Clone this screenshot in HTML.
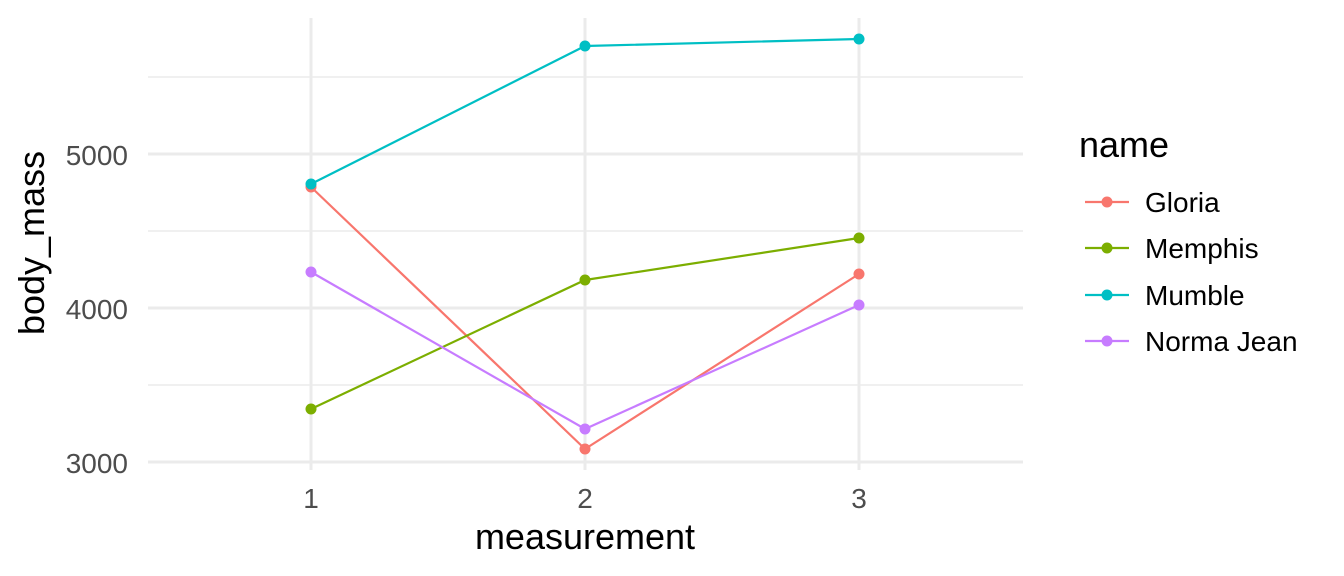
<!DOCTYPE html>
<html><head><meta charset="utf-8"><style>
html,body{margin:0;padding:0;background:#fff;}
svg{display:block;font-family:"Liberation Sans",Arial,sans-serif;}
</style></head><body>
<svg width="1344" height="576" viewBox="0 0 1344 576" xmlns="http://www.w3.org/2000/svg">
<rect width="1344" height="576" fill="#fff"/>
<g stroke="#ebebeb" stroke-width="1.5">
<line x1="148" x2="1023" y1="77" y2="77"/>
<line x1="148" x2="1023" y1="231" y2="231"/>
<line x1="148" x2="1023" y1="385" y2="385"/>
</g>
<g stroke="#ebebeb" stroke-width="3">
<line x1="148" x2="1023" y1="154" y2="154"/>
<line x1="148" x2="1023" y1="308" y2="308"/>
<line x1="148" x2="1023" y1="462" y2="462"/>
<line x1="311" x2="311" y1="18" y2="470"/>
<line x1="585" x2="585" y1="18" y2="470"/>
<line x1="859" x2="859" y1="18" y2="470"/>
</g>
<g fill="none" stroke-width="2.2">
<polyline stroke="#F8766D" points="311,187 585,449 859,274"/>
<polyline stroke="#7CAE00" points="311,409 585,280 859,238"/>
<polyline stroke="#00BFC4" points="311,184 585,46 859,39"/>
<polyline stroke="#C77CFF" points="311,272 585,429 859,305"/>
</g>
<g>
<circle cx="311" cy="187" r="5.5" fill="#F8766D"/><circle cx="585" cy="449" r="5.5" fill="#F8766D"/><circle cx="859" cy="274" r="5.5" fill="#F8766D"/>
<circle cx="311" cy="409" r="5.5" fill="#7CAE00"/><circle cx="585" cy="280" r="5.5" fill="#7CAE00"/><circle cx="859" cy="238" r="5.5" fill="#7CAE00"/>
<circle cx="311" cy="184" r="5.5" fill="#00BFC4"/><circle cx="585" cy="46" r="5.5" fill="#00BFC4"/><circle cx="859" cy="39" r="5.5" fill="#00BFC4"/>
<circle cx="311" cy="272" r="5.5" fill="#C77CFF"/><circle cx="585" cy="429" r="5.5" fill="#C77CFF"/><circle cx="859" cy="305" r="5.5" fill="#C77CFF"/>
</g>
<g fill="#4d4d4d" font-size="28" text-anchor="end">
<text x="128" y="165">5000</text>
<text x="128" y="319">4000</text>
<text x="128" y="473">3000</text>
</g>
<g fill="#4d4d4d" font-size="28" text-anchor="middle">
<text x="311" y="508">1</text>
<text x="585" y="508">2</text>
<text x="859" y="508">3</text>
</g>
<text x="585" y="549" font-size="36" text-anchor="middle" fill="#000">measurement</text>
<text transform="translate(44,243) rotate(-90)" font-size="36" text-anchor="middle" fill="#000">body_mass</text>
<text x="1079" y="157" font-size="36" fill="#000">name</text>
<g stroke-width="2.2">
<line x1="1085" x2="1129" y1="202" y2="202" stroke="#F8766D"/><circle cx="1107" cy="202" r="5.5" fill="#F8766D"/>
<line x1="1085" x2="1129" y1="248" y2="248" stroke="#7CAE00"/><circle cx="1107" cy="248" r="5.5" fill="#7CAE00"/>
<line x1="1085" x2="1129" y1="295" y2="295" stroke="#00BFC4"/><circle cx="1107" cy="295" r="5.5" fill="#00BFC4"/>
<line x1="1085" x2="1129" y1="341" y2="341" stroke="#C77CFF"/><circle cx="1107" cy="341" r="5.5" fill="#C77CFF"/>
</g>
<g font-size="28" fill="#000">
<text x="1145" y="212">Gloria</text>
<text x="1145" y="258">Memphis</text>
<text x="1145" y="305">Mumble</text>
<text x="1145" y="351">Norma Jean</text>
</g>
</svg>
</body></html>
